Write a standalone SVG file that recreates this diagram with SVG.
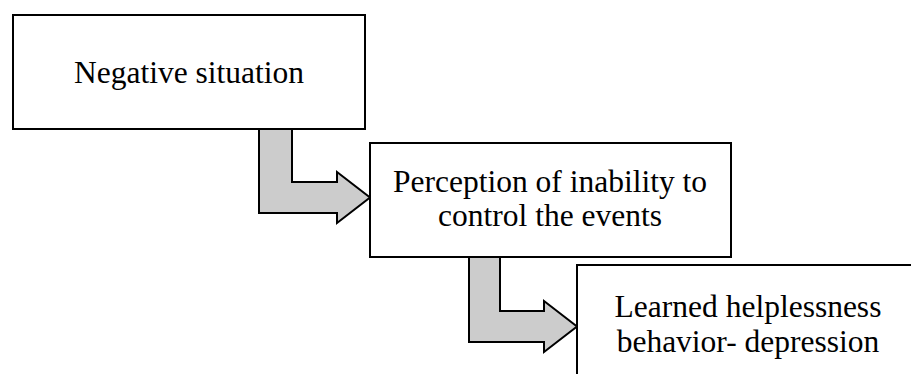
<svg xmlns="http://www.w3.org/2000/svg" width="911" height="374" viewBox="0 0 911 374">
<style>
.box{fill:#fff;stroke:#000;stroke-width:2}
.arr{fill:#cccccc;stroke:#000;stroke-width:2;stroke-linejoin:miter}
.t{font-family:"Liberation Serif","Times New Roman",serif;font-size:31.5px;fill:#000;text-anchor:middle}
</style>
<rect width="911" height="374" fill="#fff"/>
<g id="connectors">
<polygon class="arr" points="259,129 292,129 292,182 337,182 337,172 370,197.5 337,223 337,213 259,213"/>
<polygon class="arr" points="469,257 500,257 500,311 544,311 544,301 577,326.5 544,352 544,342 469,342"/>
</g>
<g id="node1">
<rect class="box" x="13" y="15" width="352" height="114"/>
<text class="t" x="189" y="82.5">Negative situation</text>
</g>
<g id="node2">
<rect class="box" x="370" y="143" width="361" height="114"/>
<text class="t" x="550" y="192">Perception of inability to</text>
<text class="t" x="550" y="225.5">control the events</text>
</g>
<g id="node3">
<rect class="box" x="577" y="265" width="400" height="200"/>
<text class="t" x="748" y="316.5">Learned helplessness</text>
<text class="t" x="748" y="351.5">behavior- depression</text>
</g>
</svg>
